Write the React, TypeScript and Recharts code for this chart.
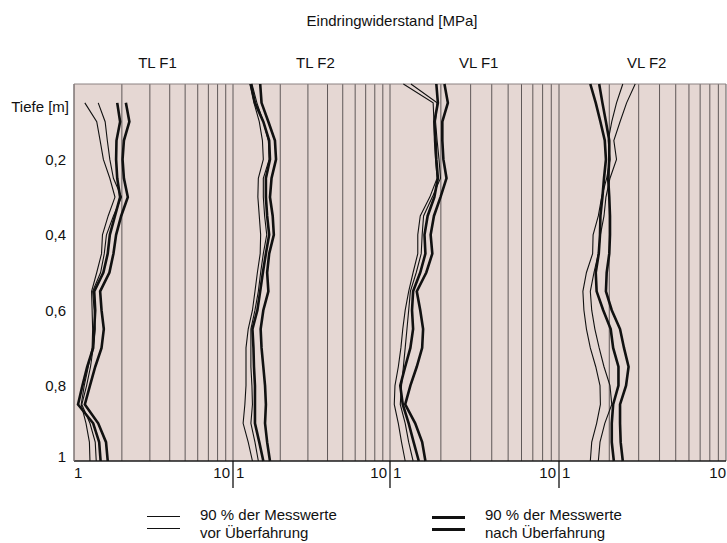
import {
  ScatterChart,
  Scatter,
  XAxis,
  YAxis,
  CartesianGrid,
  ReferenceLine,
} from "recharts";

const FONT = '"Liberation Sans", Arial, Helvetica, sans-serif';

const PANELS = ["TL F1", "TL F2", "VL F1", "VL F2"];
const DEPTH = [0, 0.05, 0.1, 0.15, 0.2, 0.25, 0.3, 0.35, 0.4, 0.45, 0.5, 0.55, 0.6, 0.65, 0.7, 0.75, 0.8, 0.85, 0.9, 0.95, 1];
const DEPTH_TICKS = [0, 0.2, 0.4, 0.6, 0.8, 1];

// Eindringwiderstand [MPa], 90 % der Messwerte vor / nach Überfahrung
const TLF1_VOR_A = [null, 1.17, 1.39, 1.46, 1.53, 1.68, 1.81, 1.64, 1.51, 1.49, 1.39, 1.29, 1.3, 1.31, 1.3, 1.23, 1.16, 1.11, 1.19, 1.25, 1.26];
const TLF1_VOR_B = [null, 1.42, 1.57, 1.62, 1.68, 1.77, 1.99, 1.77, 1.6, 1.55, 1.47, 1.31, 1.34, 1.36, 1.32, 1.27, 1.2, 1.12, 1.26, 1.36, 1.38];
const TLF1_NACH_A = [null, 1.87, 1.95, 1.85, 1.84, 1.87, 1.95, 1.81, 1.68, 1.63, 1.53, 1.34, 1.36, 1.34, 1.32, 1.21, 1.13, 1.06, 1.32, 1.44, 1.47];
const TLF1_NACH_B = [null, 2.12, 2.23, 2.06, 2.02, 2.06, 2.18, 1.98, 1.84, 1.77, 1.67, 1.46, 1.49, 1.54, 1.49, 1.36, 1.26, 1.17, 1.42, 1.59, 1.63];

const TLF2_VOR_A = [1.28, 1.36, 1.47, 1.54, 1.56, 1.45, 1.44, 1.47, 1.5, 1.49, 1.43, 1.38, 1.33, 1.25, 1.21, 1.21, 1.21, 1.19, 1.16, 1.25, 1.33];
const TLF2_VOR_B = [1.32, 1.42, 1.56, 1.68, 1.7, 1.56, 1.56, 1.59, 1.64, 1.56, 1.5, 1.45, 1.38, 1.3, 1.3, 1.3, 1.32, 1.33, 1.3, 1.38, 1.45];
const TLF2_NACH_A = [1.3, 1.38, 1.56, 1.7, 1.72, 1.62, 1.62, 1.65, 1.7, 1.62, 1.55, 1.49, 1.43, 1.33, 1.35, 1.36, 1.38, 1.38, 1.38, 1.47, 1.56];
const TLF2_NACH_B = [1.49, 1.52, 1.68, 1.85, 1.88, 1.76, 1.72, 1.79, 1.82, 1.7, 1.65, 1.68, 1.56, 1.5, 1.52, 1.56, 1.6, 1.62, 1.6, 1.65, 1.72];

const VLF1_VOR_A = [1.2, 1.8, 1.82, 1.83, 1.86, 1.9, 1.72, 1.51, 1.46, 1.46, 1.37, 1.29, 1.23, 1.19, 1.16, 1.12, 1.07, 1.06, 1.12, 1.17, 1.23];
const VLF1_VOR_B = [1.33, 1.9, 1.86, 1.9, 1.95, 1.99, 1.78, 1.58, 1.55, 1.53, 1.43, 1.32, 1.29, 1.26, 1.23, 1.2, 1.17, 1.15, 1.23, 1.29, 1.37];
const VLF1_NACH_A = [1.88, 1.92, 1.83, 1.86, 1.88, 1.92, 1.83, 1.67, 1.6, 1.62, 1.51, 1.37, 1.35, 1.37, 1.32, 1.23, 1.15, 1.19, 1.29, 1.38, 1.48];
const VLF1_NACH_B = [2.1, 2.2, 2.04, 2.04, 2.07, 2.16, 1.99, 1.82, 1.74, 1.78, 1.64, 1.44, 1.51, 1.57, 1.55, 1.44, 1.32, 1.23, 1.41, 1.55, 1.62];

const VLF2_VOR_A = [2.41, 2.21, 2.07, 1.97, 2.02, 1.93, 1.8, 1.72, 1.6, 1.59, 1.46, 1.39, 1.41, 1.46, 1.54, 1.66, 1.76, 1.77, 1.68, 1.57, 1.54];
const VLF2_VOR_B = [2.86, 2.54, 2.32, 2.13, 2.21, 2.02, 1.91, 1.86, 1.77, 1.72, 1.62, 1.54, 1.57, 1.64, 1.74, 1.86, 2.02, 2.07, 1.88, 1.76, 1.72];
const VLF2_NACH_A = [1.54, 1.66, 1.77, 1.88, 1.91, 1.86, 1.82, 1.77, 1.76, 1.73, 1.66, 1.68, 1.84, 2.04, 2.11, 2.27, 2.27, 2.11, 2.07, 2.07, 2.13];
const VLF2_NACH_B = [1.74, 1.82, 1.91, 2.0, 2.0, 1.97, 2.0, 2.02, 2.02, 2.0, 1.93, 1.91, 2.07, 2.32, 2.45, 2.61, 2.52, 2.32, 2.32, 2.34, 2.41];

const VOR = [
  [TLF1_VOR_A, TLF1_VOR_B],
  [TLF2_VOR_A, TLF2_VOR_B],
  [VLF1_VOR_A, VLF1_VOR_B],
  [VLF2_VOR_A, VLF2_VOR_B],
];
const NACH = [
  [TLF1_NACH_A, TLF1_NACH_B],
  [TLF2_NACH_A, TLF2_NACH_B],
  [VLF1_NACH_A, VLF1_NACH_B],
  [VLF2_NACH_A, VLF2_NACH_B],
];

// each panel is one log decade 1..10, panels sit side by side on one axis
const SPAN = [159, 157, 169, 167];
const START = SPAN.map((_, i) => SPAN.slice(0, i).reduce((a, b) => a + b, 0));
const TOTAL = SPAN.reduce((a, b) => a + b, 0);
const BOUNDS = [...START, TOTAL];

const toAxis = (p: number, v: number) => START[p] + SPAN[p] * Math.log10(v);

const gridTicks: number[] = [];
SPAN.forEach((_, p) => {
  for (let k = p === 0 ? 1 : 2; k <= 10; k++) gridTicks.push(toAxis(p, k));
});

const toPoints = (p: number, vals: (number | null)[]) =>
  DEPTH.map((d, i) => (vals[i] == null ? null : { u: toAxis(p, vals[i] as number), d })).filter(
    Boolean
  );

const noDot = () => <g />;

const XTick = ({ x, y, payload }: any) => {
  const i = BOUNDS.findIndex((b) => Math.abs(b - payload.value) < 0.01);
  if (i < 0) return <g />;
  const ty = y + 17;
  const style = { fontFamily: FONT, fontSize: 15, fill: "#111" };
  if (i === 0)
    return (
      <text x={x} y={ty} textAnchor="start" {...style}>
        1
      </text>
    );
  if (i === BOUNDS.length - 1)
    return (
      <text x={x} y={ty} textAnchor="end" {...style}>
        10
      </text>
    );
  return (
    <g>
      <line x1={x} x2={x} y1={y} y2={y + 27} stroke="#111" strokeWidth={1.3} />
      <text x={x - 3} y={ty} textAnchor="end" {...style}>
        10
      </text>
      <text x={x + 3} y={ty} textAnchor="start" {...style}>
        1
      </text>
    </g>
  );
};

const YTick = ({ x, y, payload }: any) => {
  const style = { fontFamily: FONT, fontSize: 15, fill: "#111" };
  if (payload.value === 0)
    return (
      <text x={x - 5} y={y + 28} textAnchor="end" {...style}>
        Tiefe [m]
      </text>
    );
  const label = payload.value === 1 ? "1" : String(payload.value).replace(".", ",");
  return (
    <text x={x - 8} y={payload.value === 1 ? y + 1 : y + 5.5} textAnchor="end" {...style}>
      {label}
    </text>
  );
};

const LegendItem = ({ left, width, text }: { left: number; width: number; text: string }) => (
  <div style={{ position: "absolute", left, top: 506 }}>
    <div style={{ position: "absolute", left: 0, top: 10, width: 33, height: width, background: "#111" }} />
    <div style={{ position: "absolute", left: 0, top: 22, width: 33, height: width, background: "#111" }} />
    <div
      style={{
        position: "absolute",
        left: 53,
        top: 0,
        whiteSpace: "nowrap",
        fontSize: 15,
        lineHeight: "18px",
        color: "#111",
      }}
    >
      90 % der Messwerte
      <br />
      {text}
    </div>
  </div>
);

export default function App() {
  return (
    <div
      style={{
        position: "absolute",
        left: 0,
        top: 0,
        width: 727,
        height: 543,
        background: "#fff",
        fontFamily: FONT,
        overflow: "hidden",
      }}
    >
      <div
        style={{
          position: "absolute",
          left: 392,
          top: 12,
          transform: "translateX(-50%)",
          fontSize: 15,
          lineHeight: "18px",
          whiteSpace: "nowrap",
          color: "#111",
        }}
      >
        Eindringwiderstand [MPa]
      </div>
      {PANELS.map((name, p) => (
        <div
          key={name}
          style={{
            position: "absolute",
            left: 74 + START[p] + SPAN[p] * 0.525,
            top: 54,
            transform: "translateX(-50%)",
            fontSize: 15,
            lineHeight: "18px",
            whiteSpace: "nowrap",
            color: "#111",
          }}
        >
          {name}
        </div>
      ))}

      <div style={{ position: "absolute", left: 0, top: 0 }}>
        <ScatterChart width={727} height={543} margin={{ top: 84, right: 1, bottom: 0, left: 0 }}>
          <CartesianGrid
            horizontal={false}
            fill="#e5d7d3"
            fillOpacity={1}
            stroke="#5f5858"
            strokeWidth={1}
          />
          <XAxis
            type="number"
            dataKey="u"
            domain={[0, TOTAL]}
            ticks={gridTicks}
            interval={0}
            height={82}
            tickLine={false}
            tickSize={0}
            tickMargin={0}
            tick={<XTick />}
            axisLine={{ stroke: "#1a1a1a", strokeWidth: 1.6 }}
            allowDataOverflow
          />
          <YAxis
            type="number"
            dataKey="d"
            domain={[0, 1]}
            reversed
            ticks={DEPTH_TICKS}
            interval={0}
            width={74}
            tickLine={false}
            tickSize={0}
            tickMargin={0}
            tick={<YTick />}
            axisLine={{ stroke: "#8c8282", strokeWidth: 1 }}
          />
          <ReferenceLine y={0} stroke="#8c8282" strokeWidth={1} />
          {VOR.map((pair, p) =>
            pair.map((vals, j) => (
              <Scatter
                key={`vor-${p}-${j}`}
                data={toPoints(p, vals)}
                line={{ stroke: "#111", strokeWidth: 1.1 }}
                lineType="joint"
                shape={noDot}
                fill="#111"
                isAnimationActive={false}
              />
            ))
          )}
          {NACH.map((pair, p) =>
            pair.map((vals, j) => (
              <Scatter
                key={`nach-${p}-${j}`}
                data={toPoints(p, vals)}
                line={{ stroke: "#111", strokeWidth: 2.6 }}
                lineType="joint"
                shape={noDot}
                fill="#111"
                isAnimationActive={false}
              />
            ))
          )}
        </ScatterChart>
      </div>

      <LegendItem left={147} width={1.3} text="vor Überfahrung" />
      <LegendItem left={432} width={3} text="nach Überfahrung" />
    </div>
  );
}
